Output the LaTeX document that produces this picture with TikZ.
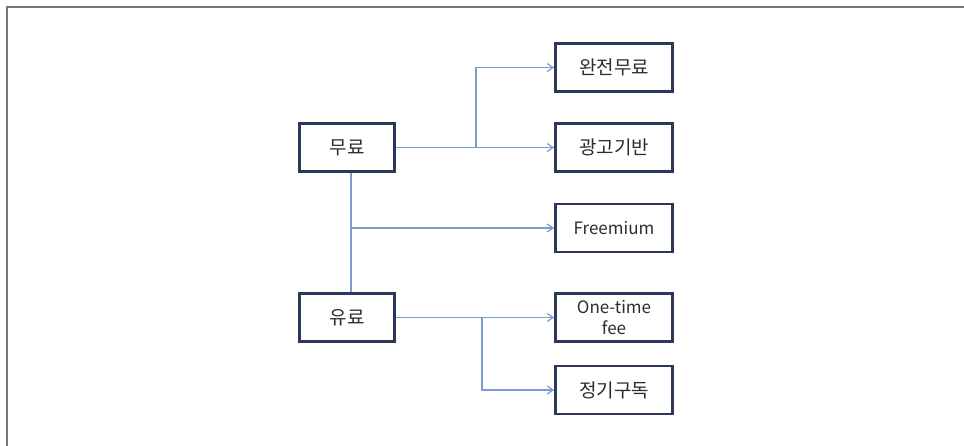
\documentclass[tikz,border=0pt]{standalone}
\usepackage{fontspec}
\setmainfont{Noto Sans CJK KR}
\usetikzlibrary{arrows.meta}
\definecolor{linkblue}{RGB}{125,155,205}
\definecolor{boxnavy}{RGB}{45,55,90}
\definecolor{txtgray}{RGB}{45,45,45}
\definecolor{framegray}{RGB}{120,120,120}
\tikzset{
  box/.style={draw=boxnavy, line width=2.6pt, fill=white, minimum height=48pt,
    text=txtgray, font=\fontsize{19}{20}\selectfont, inner sep=0pt, align=center},
  latinbox/.style={font=\fontsize{17}{21}\selectfont},
  leftbox/.style={box, minimum width=95pt},
  rightbox/.style={box, minimum width=117pt},
  link/.style={draw=linkblue, line width=1.2pt},
  arrowlink/.style={link, -{Straight Barb[length=6pt,width=8pt,line width=1.2pt]}},
}
\begin{document}
\begin{tikzpicture}[x=1pt,y=-1pt]
\useasboundingbox (0,0) rectangle (964,446);
\draw[framegray, line width=2pt] (7,446) -- (7,7) -- (964,7);
\node[leftbox] (free) at (347,147.5) {무료};
\node[leftbox] (paid) at (347,317.5) {유료};
\node[rightbox] (full) at (614,67.5) {완전무료};
\node[rightbox] (ad) at (614,147.5) {광고기반};
\node[rightbox, latinbox] (frm) at (614,228) {Freemium};
\node[rightbox, latinbox] (once) at (614,317.5) {One-time\\fee};
\node[rightbox] (sub) at (614,390) {정기구독};
\coordinate (b1) at (476,147.5);
\coordinate (b2) at (482,317.5);
\coordinate (v) at (351,228);
\draw[link] (free.south -| v) -- (paid.north -| v);
\draw[arrowlink] (free.east) -- (ad.west);
\draw[arrowlink] (b1) |- (full.west);
\draw[arrowlink] (v) -- (frm.west);
\draw[arrowlink] (paid.east) -- (once.west);
\draw[arrowlink] (b2) |- (sub.west);
\end{tikzpicture}
\end{document}
